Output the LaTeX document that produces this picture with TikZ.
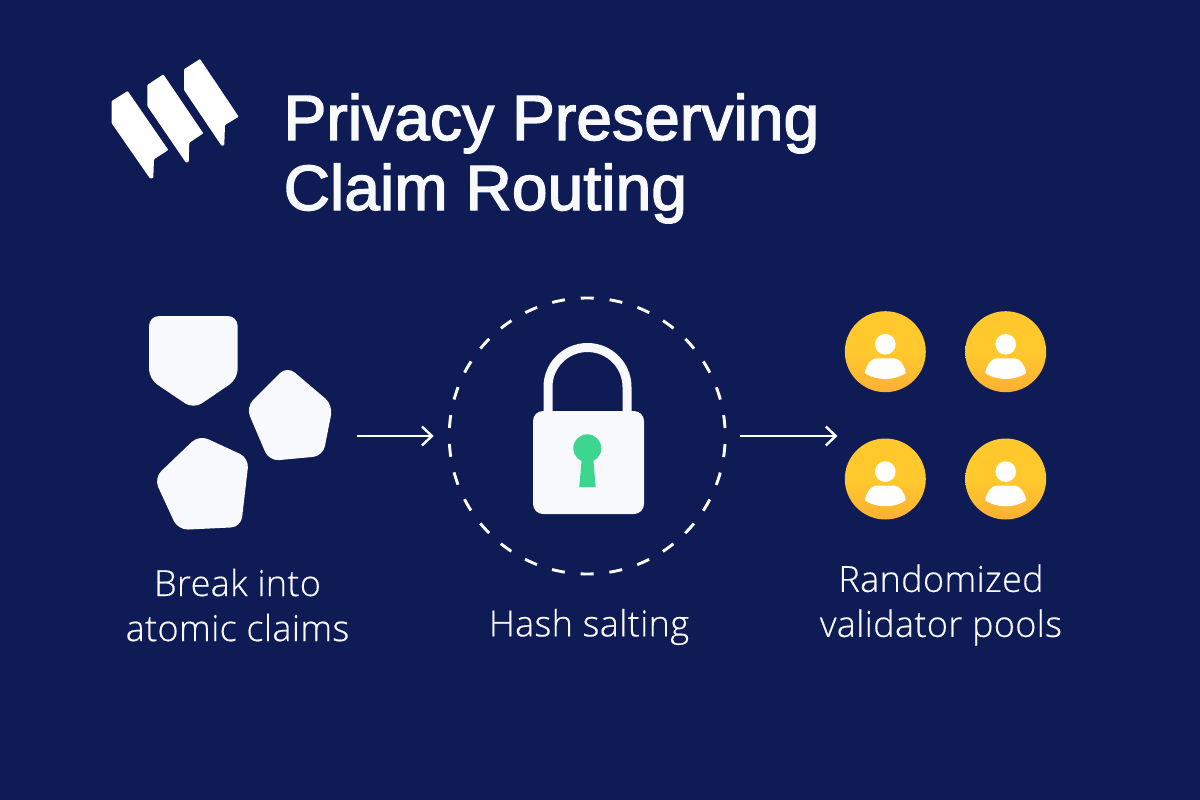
\documentclass[tikz,border=0pt]{standalone}
\usepackage{fontspec}
\setmainfont{Liberation Sans}
\newfontfamily\titleface[FakeBold=2.2,LetterSpace=0.2]{Liberation Sans}
\newfontfamily\lightface[FakeBold=0.5,LetterSpace=1]{Open Sans Light}
\usetikzlibrary{arrows.meta}
\definecolor{bgnavy}{HTML}{0E1B54}
\definecolor{paper}{HTML}{F8F9FD}
\definecolor{mint}{HTML}{3DD68F}
\definecolor{gold}{HTML}{FFC92E}
\definecolor{goldlow}{HTML}{FBB033}
\tikzset{
  x=1pt,y=-1pt,
  whitepiece/.style={fill=paper,draw=none,rounded corners=10pt},
  logopiece/.style={fill=white,draw=none,rounded corners=0.8pt},
  titletext/.style={text=paper,font=\titleface\fontsize{64}{70}\selectfont,align=left,anchor=base west,inner sep=0pt},
  labeltext/.style={text=paper,font=\lightface\fontsize{36}{45}\selectfont,align=center,inner sep=0pt},
  flow/.style={draw=white,line width=2.4pt,-{Straight Barb[length=10pt,width=19pt,line width=2.4pt]}},
  holder/.style={draw=none,inner sep=0pt,outer sep=0pt},
  ringnode/.style={circle,draw=white,line width=2.9pt,dash pattern=on 13pt off 15.9pt,dash phase=20.95pt,minimum size=276pt,inner sep=0pt,outer sep=0pt},
  badge/.style={circle,minimum size=81pt,inner sep=0pt,top color=gold,bottom color=goldlow,middle color=gold,draw=none},
}
\newcommand{\persona}[3]{%
  \node[badge] (#3) at (#1,#2) {};
  \fill[white] (#1,#2-7.4) circle (10.3pt);
  \fill[white,rounded corners=1pt] (#1-20.5,#2+21.5) .. controls (#1-19,#2+13) and (#1-14,#2+6.6) .. (#1-8,#2+6.6)
    -- (#1+8,#2+6.6) .. controls (#1+14,#2+6.6) and (#1+19,#2+13) .. (#1+20.5,#2+21.5)
    .. controls (#1+8,#2+29) and (#1-8,#2+29) .. (#1-20.5,#2+21.5) -- cycle;
}
\begin{document}
\begin{tikzpicture}
\useasboundingbox (0,0) rectangle (1200,800);
\fill[bgnavy] (0,0) rectangle (1200,800);
% logo
\fill[logopiece] (111.7,101) -- (127.7,91) -- (168.3,150) -- (154,159.3) -- (153.3,178) -- (150,178.5) -- (111.7,123.3) -- cycle;
\fill[logopiece] (147.3,85) -- (163.3,74.3) -- (203.3,133.3) -- (189.3,142.7) -- (188.7,162) -- (186,162.7) -- (147.3,106) -- cycle;
\fill[logopiece] (184,69.3) -- (200,59) -- (238.7,116.7) -- (225,125) -- (224.3,145) -- (221.7,146) -- (184,90) -- cycle;
% title
\node[titletext] (title1) at (283.5,140) {Privacy Preserving};
\node[titletext] (title2) at (283.5,210) {Claim Routing};
% claims
\fill[whitepiece] (149,316) -- (237.7,316) -- (237.7,379) -- (193.5,409) -- (149,379) -- cycle;
\fill[whitepiece] (287,366) -- (333,405) -- (323,456) -- (269,461) -- (246,407) -- cycle;
\fill[whitepiece] (199,435) -- (249,458) -- (241,527) -- (178,530) -- (154,478) -- cycle;
\node[holder,minimum width=182pt,minimum height=214pt] (claims) at (240,423) {};
% lock
\node[ringnode] (hash) at (587.2,436) {};
\draw[paper,line width=9pt] (548,412) -- (548,387) arc[start angle=180,end angle=0,radius=39.5pt] -- (627,412);
\fill[paper,rounded corners=10pt] (533,411) rectangle (644,514);
\fill[mint] (581.7,459) -- (579.3,487) -- (595.7,487) -- (593.3,459) -- cycle;
\fill[mint] (587.3,448.3) circle (14pt);
% pools
\persona{885.3}{351.7}{p1}
\persona{1005.7}{351.7}{p2}
\persona{885.3}{479}{p3}
\persona{1005.7}{479}{p4}
\node[holder,minimum width=200pt,minimum height=210pt] (pools) at (945,436) {};
% arrows
\draw[flow,shorten <=25.5pt,shorten >=15.5pt] (claims.east |- hash.west) -- (hash.west);
\draw[flow,shorten <=15pt,shorten >=7.5pt] (hash.east) -- (pools.west);
% labels
\node[labeltext] (lab1) at (237.5,605) {Break into\\atomic claims};
\node[labeltext] (lab2) at (589,627) {Hash salting};
\node[labeltext] (lab3) at (941,605) {Randomized\\validator pools};
\end{tikzpicture}
\end{document}
